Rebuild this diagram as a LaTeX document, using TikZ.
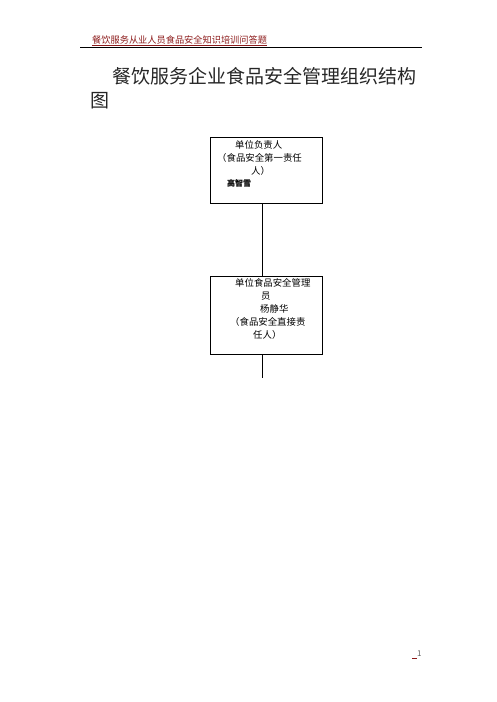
\documentclass[tikz,border=0pt]{standalone}
\usepackage{fontspec}
\setmainfont{Noto Sans CJK SC}
\usetikzlibrary{positioning}
\definecolor{hdrred}{RGB}{140,26,26}

\tikzstyle{orgbox} = [draw, rectangle, line width=0.8pt]
\tikzstyle{boxtext} = [anchor=west, inner sep=0pt, font=\fontsize{9.4}{10}\selectfont]
\tikzstyle{person} = [anchor=west, inner sep=0pt, font=\fontsize{8}{9}\selectfont\bfseries]

\begin{document}
\begin{tikzpicture}[x=1pt,y=-1pt]
      \useasboundingbox (0,0) rectangle (496,702);
      % page header
      \node [anchor=west, inner sep=0pt, text=hdrred, font=\fontsize{9.2}{10}\selectfont] (header) at (92,40) {餐饮服务从业人员食品安全知识培训问答题};
      \coordinate (hl) at (80,47);
      \coordinate (hr) at (422,47);
      \draw [line width=0.7pt] (hl) -- (hr);
      \draw [hdrred, line width=0.6pt] ([yshift=-1pt]header.south west) -- ([yshift=-1pt]header.south east);

      % title
      \node [anchor=west, inner sep=0pt, text=black!85, font=\fontsize{19}{20}\selectfont] (title1) at (112,76) {餐饮服务企业食品安全管理组织结构};
      \node [anchor=west, inner sep=0pt, text=black!85, font=\fontsize{19}{20}\selectfont] (title2) at (90,101) {图};

      % boxes
      \node [orgbox, minimum width=112pt, minimum height=66pt] at (266.5,170) (boss) {};
      \node [orgbox, minimum width=112pt, minimum height=78pt] at (266.5,315) (admin) {};
      \node [shape=coordinate, name=conn1] at (262.5,378) {};

      \node [boxtext] at (235,145) (b1) {单位负责人};
      \node [boxtext] at (217,158) (b2) {（食品安全第一责任};
      \node [boxtext] at (251,171) (b3) {人）};
      \node [person] at (227,183) (b4) {高智雪};

      \node [boxtext] at (235,283) (a1) {单位食品安全管理};
      \node [boxtext] at (261,296) (a2) {员};
      \node [boxtext] at (260,309) (a3) {杨静华};
      \node [boxtext] at (230,322) (a4) {（食品安全直接责};
      \node [boxtext] at (253,335) (a5) {任人）};

      \draw (boss.south -| conn1) -- (admin.north -| conn1);
      \draw (admin.south -| conn1) -- (conn1);

      % page number
      \node [anchor=west, inner sep=0pt, text=black!60, font=\fontsize{8}{9}\selectfont] (pagenum) at (417,654) {1};
      \draw [hdrred, line width=0.8pt] ([xshift=-5pt,yshift=-1pt]pagenum.south west) -- ([yshift=-1pt]pagenum.south west);
    \end{tikzpicture}
\end{document}
